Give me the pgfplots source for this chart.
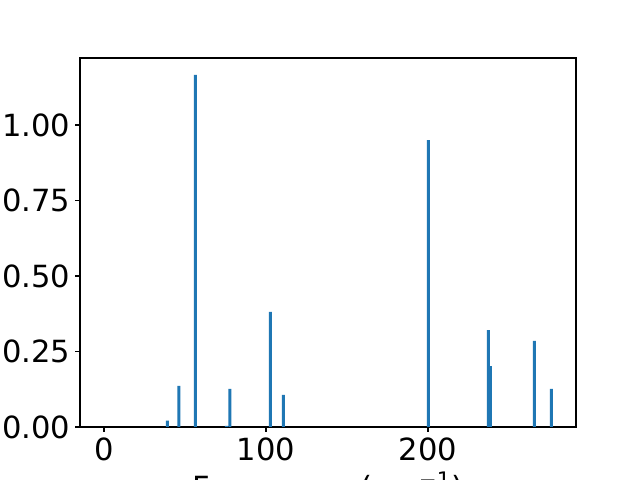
\documentclass[border=0pt]{standalone}
\usepackage{pgfplots}
\pgfplotsset{compat=1.18}
\usepackage{fontspec}
\setmainfont{DejaVu Sans}
\definecolor{mplblue}{HTML}{1F77B4}
\begin{document}
\begin{tikzpicture}
\useasboundingbox (0,0) rectangle (460.8pt,345.6pt);
\begin{axis}[
  at={(57.6pt,38.16pt)}, anchor=south west,
  width=357.12pt, height=265.68pt, scale only axis,
  xmin=-14.8, xmax=291.4, ymin=0, ymax=1.222,
  axis line style={line width=0.8pt},
  every tick/.style={black, line width=0.8pt},
  tick align=outside, major tick length=3.5pt,
  xtick={0,100,200}, ytick={0,0.25,0.5,0.75,1.0},
  xtick pos=bottom, ytick pos=left,
  /pgf/number format/assume math mode=true,
  yticklabel style={/pgf/number format/.cd, fixed, fixed zerofill, precision=2},
  ticklabel style={font=\fontsize{22}{26}\selectfont},
  xticklabel style={yshift=-1pt},
  xlabel={Frequency (cm\textsuperscript{\char"2212 1})},
  xlabel style={font=\fontsize{22}{26}\selectfont, yshift=-1pt},
  ybar, bar shift=0pt, bar width=1.85,
]
\addplot[fill=mplblue, draw=none] coordinates {
(39.1,0.021) (46.3,0.136) (56.5,1.166) (75.6,0.004) (77.8,0.126)
(102.8,0.381) (110.8,0.106) (200.3,0.950) (237.3,0.321) (238.6,0.202)
(265.7,0.285) (276.2,0.126)
};
\end{axis}
\end{tikzpicture}
\end{document}
